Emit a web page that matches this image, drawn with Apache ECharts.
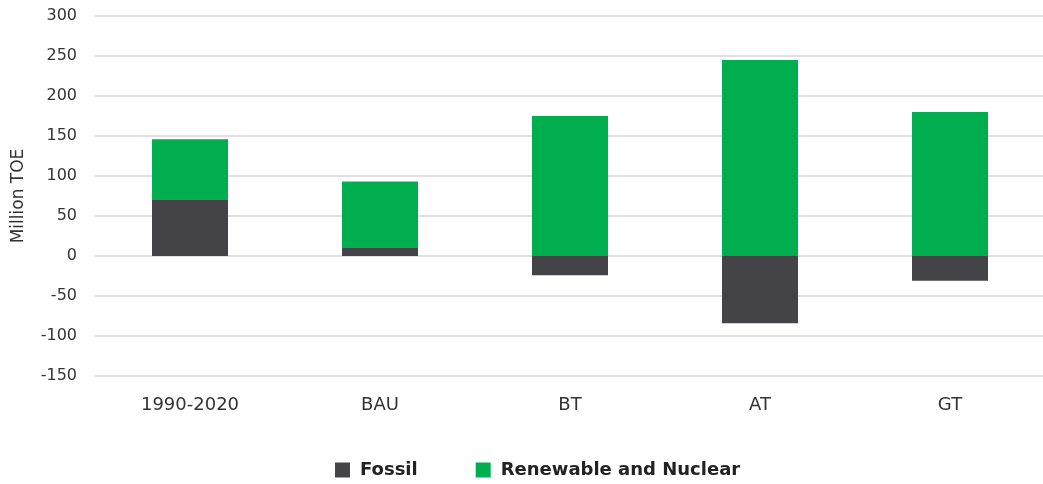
<!DOCTYPE html>
<html>
<head>
<meta charset="utf-8">
<script src="https://cdn.jsdelivr.net/npm/echarts@6/dist/echarts.min.js"></script>
<style>
  html, body { margin: 0; padding: 0; background: #fff; }
  #chart { width: 1043px; height: 484px; }
</style>
</head>
<body>
<div id="chart"></div>
<script>
// 数据
const categories = ['1990-2020', 'BAU', 'BT', 'AT', 'GT'];
const fossil = [71, 11, -24, -84, -31];
const renewable = [75, 82, 175, 245, 180];
const yTicks = { min: -150, max: 300, interval: 50 };

const chart = echarts.init(document.getElementById('chart'));
const font = '"DejaVu Sans", sans-serif';

const option = {
  animation: false,
  grid: { left: 95, right: -2, top: 16, bottom: 108, outerBoundsMode: 'none' },
  legend: {
    top: 456,
    left: 330,
    itemWidth: 15,
    itemHeight: 15,
    itemGap: 58,
    icon: 'rect',
    textStyle: { fontFamily: font, fontSize: 18, fontWeight: 'bold', color: '#222', padding: [0, 0, 0, 5] },
    data: ['Fossil', 'Renewable and Nuclear']
  },
  xAxis: {
    type: 'category',
    data: categories,
    axisLine: { show: false },
    axisTick: { show: false },
    axisLabel: { fontFamily: font, fontSize: 18, color: '#333', margin: 20 }
  },
  yAxis: {
    type: 'value',
    min: yTicks.min,
    max: yTicks.max,
    interval: yTicks.interval,
    name: 'Million TOE',
    nameLocation: 'middle',
    nameGap: 68,
    nameTextStyle: { fontFamily: font, fontSize: 17, color: '#333' },
    axisLabel: { fontFamily: font, fontSize: 16, color: '#333', margin: 18 },
    splitLine: { lineStyle: { color: '#e0e0e0', width: 2 } }
  },
  series: [
    {
      name: 'Fossil',
      type: 'bar',
      stack: 'total',
      barWidth: 76,
      itemStyle: { color: '#444348' },
      data: fossil
    },
    {
      name: 'Renewable and Nuclear',
      type: 'bar',
      stack: 'total',
      barWidth: 76,
      itemStyle: { color: '#00ad4f' },
      data: renewable
    }
  ]
};
chart.setOption(option);
</script>
</body>
</html>
